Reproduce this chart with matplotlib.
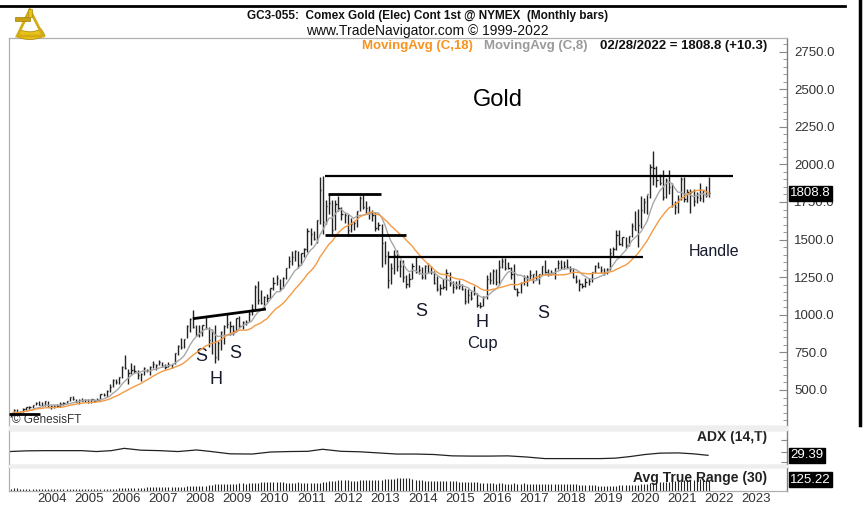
import numpy as np
import pandas as pd
import matplotlib
matplotlib.use('Agg')
import matplotlib.pyplot as plt
from matplotlib import font_manager
from matplotlib.lines import Line2D
from matplotlib.patches import Rectangle, Wedge, Polygon
from matplotlib.ticker import MultipleLocator, FixedLocator, FormatStrFormatter, NullLocator
import matplotlib.transforms as mtransforms

try:
    font_manager.findfont('Liberation Sans Narrow', fallback_to_default=False)
    NARROW = 'Liberation Sans Narrow'
except ValueError:
    NARROW = 'Liberation Sans'
plt.rcParams['font.family'] = [NARROW, 'DejaVu Sans']

# monthly bars, Apr 2003 .. Feb 2022
first_month = '2003-04-01'
close = [
    339, 364, 346, 354, 375, 385, 384, 398, 416,                              # 2003
    400, 396, 424, 388, 394, 393, 391, 408, 416, 429, 453, 438,               # 2004
    423, 436, 429, 436, 417, 437, 430, 434, 473, 470, 495, 518,               # 2005
    569, 556, 584, 654, 644, 616, 634, 626, 599, 606, 648, 636,               # 2006
    652, 672, 669, 684, 659, 651, 666, 673, 743, 795, 783, 838,               # 2007
    928, 975, 917, 865, 888, 930, 914, 834, 884, 718, 815, 884,               # 2008
    928, 942, 924, 891, 979, 927, 955, 955, 1008, 1040, 1182, 1097,           # 2009
    1081, 1118, 1115, 1180, 1213, 1244, 1181, 1248, 1309, 1357, 1386, 1421,   # 2010
    1333, 1411, 1439, 1556, 1536, 1502, 1628, 1829, 1620, 1725, 1746, 1566,   # 2011
    1738, 1711, 1669, 1664, 1561, 1604, 1610, 1692, 1776, 1719, 1711, 1675,   # 2012
    1663, 1579, 1596, 1476, 1393, 1234, 1312, 1395, 1327, 1323, 1250, 1202,   # 2013
    1240, 1322, 1284, 1295, 1250, 1322, 1282, 1287, 1210, 1171, 1175, 1184,   # 2014
    1278, 1213, 1183, 1182, 1190, 1172, 1095, 1132, 1115, 1142, 1064, 1060,   # 2015
    1116, 1238, 1234, 1290, 1215, 1320, 1357, 1311, 1313, 1272, 1173, 1151,   # 2016
    1210, 1252, 1249, 1266, 1268, 1241, 1269, 1322, 1283, 1270, 1275, 1309,   # 2017
    1343, 1318, 1327, 1316, 1305, 1253, 1224, 1206, 1192, 1215, 1222, 1282,   # 2018
    1325, 1316, 1295, 1285, 1305, 1413, 1437, 1529, 1472, 1514, 1465, 1523,   # 2019
    1589, 1567, 1597, 1694, 1751, 1800, 1986, 1978, 1895, 1879, 1780, 1895,   # 2020
    1850, 1729, 1714, 1769, 1906, 1771, 1817, 1818, 1757, 1784, 1775, 1829,   # 2021
    1795, 1808.8,                                                             # 2022
]
high = [
    341, 373, 372, 362, 378, 390, 394, 399, 417,
    427, 418, 429, 428, 397, 399, 410, 419, 418, 430, 456, 458,
    441, 439, 449, 438, 437, 443, 439, 450, 475, 480, 497, 540,
    572, 575, 588, 660, 732, 639, 677, 665, 632, 610, 650, 640,
    660, 691, 675, 697, 688, 673, 684, 675, 746, 798, 848, 840,
    935, 978, 1033, 933, 934, 935, 988, 918, 908, 933, 827, 889,
    935, 1008, 962, 930, 980, 992, 960, 966, 1023, 1070, 1196, 1227,
    1163, 1124, 1138, 1181, 1249, 1265, 1240, 1250, 1310, 1388, 1424, 1432,
    1424, 1414, 1447, 1576, 1577, 1560, 1632, 1917, 1923, 1760, 1804, 1764,
    1764, 1790, 1720, 1680, 1669, 1641, 1626, 1693, 1790, 1798, 1755, 1726,
    1697, 1683, 1617, 1606, 1488, 1425, 1347, 1434, 1434, 1363, 1362, 1267,
    1280, 1346, 1392, 1331, 1315, 1332, 1345, 1325, 1290, 1256, 1206, 1240,
    1307, 1284, 1224, 1224, 1232, 1205, 1175, 1170, 1157, 1191, 1145, 1088,
    1128, 1263, 1287, 1304, 1307, 1362, 1377, 1375, 1352, 1318, 1337, 1180,
    1220, 1264, 1262, 1297, 1272, 1297, 1273, 1325, 1362, 1307, 1300, 1310,
    1366, 1362, 1356, 1370, 1326, 1309, 1264, 1236, 1214, 1248, 1246, 1286,
    1330, 1349, 1325, 1309, 1310, 1443, 1453, 1566, 1566, 1519, 1517, 1525,
    1613, 1692, 1704, 1788, 1775, 1797, 2005, 2089, 1992, 1933, 1966, 1911,
    1962, 1877, 1755, 1797, 1916, 1919, 1837, 1834, 1834, 1814, 1877, 1831,
    1858, 1913,
]
low = [
    319, 338, 342, 341, 353, 370, 371, 377, 398,
    399, 392, 393, 385, 371, 383, 389, 390, 399, 412, 425, 432,
    418, 410, 425, 423, 414, 415, 419, 430, 436, 458, 456, 490,
    518, 538, 540, 583, 640, 543, 605, 613, 573, 560, 603, 617,
    603, 646, 636, 666, 652, 642, 651, 643, 671, 730, 774, 780,
    843, 884, 914, 860, 853, 856, 906, 786, 737, 681, 700, 767,
    805, 914, 866, 866, 884, 914, 908, 931, 953, 1000, 1040, 1075,
    1075, 1045, 1088, 1115, 1165, 1201, 1157, 1175, 1241, 1310, 1331, 1360,
    1309, 1330, 1383, 1419, 1462, 1495, 1478, 1602, 1535, 1605, 1672, 1523,
    1563, 1692, 1627, 1613, 1527, 1550, 1565, 1587, 1690, 1701, 1673, 1635,
    1626, 1555, 1563, 1321, 1339, 1180, 1208, 1274, 1293, 1251, 1221, 1180,
    1182, 1238, 1277, 1268, 1240, 1240, 1281, 1272, 1205, 1160, 1131, 1170,
    1167, 1190, 1142, 1170, 1169, 1162, 1072, 1078, 1098, 1132, 1052, 1046,
    1061, 1107, 1208, 1207, 1200, 1200, 1310, 1301, 1302, 1241, 1171, 1122,
    1147, 1200, 1194, 1240, 1214, 1236, 1205, 1265, 1277, 1260, 1265, 1236,
    1303, 1307, 1303, 1313, 1282, 1247, 1211, 1160, 1180, 1183, 1196, 1221,
    1276, 1311, 1280, 1267, 1269, 1301, 1385, 1428, 1465, 1459, 1445, 1459,
    1517, 1562, 1451, 1576, 1675, 1671, 1775, 1863, 1851, 1860, 1764, 1775,
    1803, 1717, 1673, 1679, 1765, 1750, 1751, 1677, 1721, 1746, 1758, 1753,
    1780, 1782,
]

# ADX (14,T)
adx_time = [2003.25, 2003.7, 2004.2, 2004.7, 2005.2, 2005.6, 2006.0, 2006.35, 2006.8,
            2007.3, 2007.8, 2008.3, 2008.7, 2009.2, 2009.8, 2010.3, 2010.8, 2011.3,
            2011.7, 2012.2, 2012.7, 2013.2, 2013.7, 2014.2, 2014.7, 2015.2, 2015.7,
            2016.2, 2016.7, 2017.2, 2017.7, 2018.2, 2018.7, 2019.2, 2019.6, 2020.0,
            2020.4, 2020.8, 2021.3, 2021.7, 2022.1]
adx_value = [46, 49, 50, 50, 50, 46, 50, 60, 52, 50, 46, 53, 46, 36, 35, 44, 46, 47,
             56, 47, 45, 40, 35, 35, 33, 27, 26, 26, 27, 22, 15, 15, 15, 15, 17, 24,
             33, 39, 40, 36, 29.39]

years = list(range(2004, 2024))
last_label = '02/28/2022 = 1808.8 (+10.3)'

# ---- derived series
df = pd.DataFrame({'close': close, 'high': high, 'low': low},
                  index=pd.date_range(first_month, periods=len(close), freq='MS'))
t = df.index.year + (df.index.month - 1) / 12 + 1 / 24
df['ma18'] = df['close'].rolling(18, min_periods=1).mean()
df['ma8'] = df['close'].rolling(8, min_periods=1).mean()
prev = df['close'].shift(1).fillna(df['close'])
tr = pd.concat([df['high'] - df['low'], (df['high'] - prev).abs(), (df['low'] - prev).abs()], axis=1).max(axis=1)
df['atr'] = tr.rolling(30, min_periods=1).mean()

W, H = 866, 508
fig = plt.figure(figsize=(W / 100, H / 100), dpi=100)
fig.patch.set_facecolor('white')


def fx(x):
    return x / W


def fy(y):
    return 1 - y / H


XMIN, XMAX = 2003.24, 2024.23
ax = fig.add_axes([fx(9), fy(426), fx(787) - fx(9), fy(38) - fy(426)])
ax2 = fig.add_axes([fx(9), fy(465), fx(787) - fx(9), fy(430) - fy(465)])
ax3 = fig.add_axes([fx(9), fy(491), fx(787) - fx(9), fy(467) - fy(491)])

# gray bands between panels
for y0, y1 in [(426, 430), (465, 467)]:
    fig.patches.append(Rectangle((fx(9), fy(y1)), fx(787) - fx(9), fy(y0) - fy(y1),
                                 transform=fig.transFigure, color='#eeeeee', zorder=0))

bar_col = '#222222'
ax.vlines(t, df['low'], df['high'], color=bar_col, lw=1.0, zorder=3)
ax.hlines(df['close'], t, t + 0.035, color=bar_col, lw=1.0, zorder=3)
ax.plot(t, df['ma8'], color='#a8a8a8', lw=1.0, zorder=4)
ax.plot(t, df['ma18'], color='#f39a45', lw=1.0, zorder=4)

# drawn trend lines
for (x0, x1), (y0, y1), lw in [((2003.24, 2004.07), (340, 340), 2.0),
                               ((2008.2, 2010.17), (974, 1038), 2.0),
                               ((2011.77, 2022.78), (1922, 1922), 1.6),
                               ((2011.85, 2013.28), (1805, 1805), 2.0),
                               ((2011.77, 2013.94), (1530, 1530), 2.0),
                               ((2013.47, 2020.35), (1382, 1382), 1.6)]:
    ax.plot([x0, x1], [y0, y1], color='black', lw=lw, zorder=5, solid_capstyle='butt')


def px_t(x):
    return 2004.4 + (x - 52) / 37.06


def px_p(y):
    return 500 + (390 - y) / 0.1504


ann_col = '#15192b'
ax.text(px_t(498), px_p(100), 'Gold', fontsize=17, ha='center', va='center', color='black', family='Liberation Sans')
ax.text(px_t(714), px_p(252), 'Handle', fontsize=11.5, ha='center', va='center', color=ann_col, family='Liberation Sans')
for x, y, s in [(421, 311, 'S'), (482, 323, 'H'), (543, 314, 'S'), (482, 344, 'Cup'),
                (201, 357, 'S'), (235, 354, 'S'), (216, 380, 'H')]:
    ax.text(px_t(x), px_p(y), s, fontsize=13 if len(s) == 1 else 12, ha='center', va='center',
            color=ann_col, family='Liberation Sans')
ax.text(px_t(12), px_p(420), '© GenesisFT', fontsize=8.5, ha='left', va='center', color='#333333')

ax.set_xlim(XMIN, XMAX)
ax.set_ylim(px_p(426), px_p(38))
ax.xaxis.set_major_locator(NullLocator())
ax.yaxis.tick_right()
ax.yaxis.set_major_locator(FixedLocator(np.arange(500, 2751, 250)))
ax.yaxis.set_minor_locator(MultipleLocator(50))
ax.yaxis.set_major_formatter(FormatStrFormatter('%.1f'))
ax.tick_params(axis='y', which='major', direction='in', length=6, color='#888888',
               labelsize=9.5, labelcolor='#333333', pad=5)
ax.tick_params(axis='y', which='minor', direction='in', length=3, color='#888888')

# price tag
blend = mtransforms.blended_transform_factory(ax.transAxes, ax.transData)
ax.text(1.004, 1808.8, '1808.8', transform=blend, ha='left', va='center', color='white',
        fontsize=9.5, zorder=10, clip_on=False,
        bbox=dict(boxstyle='square,pad=0.12', fc='black', ec='black'))

# ADX panel
ax2.plot(adx_time, adx_value, color='#222222', lw=0.9)
ax2.set_xlim(XMIN, XMAX)
ax2.set_ylim(-13.2, 140.8)
ax2.xaxis.set_major_locator(NullLocator())
ax2.yaxis.tick_right()
ax2.yaxis.set_major_locator(FixedLocator([0, 44, 97]))
ax2.tick_params(axis='y', direction='in', length=4, color='#888888', labelright=False)
ax2.text(0.975, 0.8, 'ADX (14,T)', transform=ax2.transAxes, ha='right', va='center',
         fontsize=10, fontweight='bold', color='#222222')
blend2 = mtransforms.blended_transform_factory(ax2.transAxes, ax2.transData)
ax2.text(1.004, 29.39, '29.39', transform=blend2, ha='left', va='center', color='white',
         fontsize=9.5, zorder=10, clip_on=False,
         bbox=dict(boxstyle='square,pad=0.12', fc='black', ec='black'))

# ATR panel
ax3.vlines(t, 0, df['atr'], color='#222222', lw=0.8)
ax3.set_xlim(XMIN, XMAX)
ax3.set_ylim(0, 273)
ax3.yaxis.set_major_locator(NullLocator())
ax3.set_xticks([y + 0.4 for y in years])
ax3.set_xticklabels([str(y) for y in years])
ax3.tick_params(axis='x', length=0, labelsize=9.5, labelcolor='#333333', pad=1.5)
ax3.text(0.975, 0.55, 'Avg True Range (30)', transform=ax3.transAxes, ha='right', va='center',
         fontsize=10, fontweight='bold', color='#222222')
blend3 = mtransforms.blended_transform_factory(ax3.transAxes, ax3.transData)
ax3.text(1.004, df['atr'].iloc[-1], '125.22', transform=blend3, ha='left', va='center', color='white',
         fontsize=9.5, zorder=10, clip_on=False,
         bbox=dict(boxstyle='square,pad=0.12', fc='black', ec='black'))

for a in (ax, ax2, ax3):
    a.set_facecolor('none')
    for side in ('left', 'top', 'bottom'):
        a.spines[side].set_color('#b0b0b0')
        a.spines[side].set_linewidth(0.9)
    a.spines['right'].set_color('#808080')
    a.spines['right'].set_linewidth(1.0)

# header
fig.text(fx(428), fy(16), 'GC3-055:  Comex Gold (Elec) Cont 1st @ NYMEX  (Monthly bars)',
         ha='center', va='center', fontsize=8.5, fontweight='bold', color='#111111')
fig.text(fx(427), fy(31), 'www.TradeNavigator.com © 1999-2022',
         ha='center', va='center', fontsize=10, color='#111111')
fig.text(fx(362), fy(46), 'MovingAvg (C,18)', ha='left', va='center', fontsize=9.5,
         fontweight='bold', color='#f7931e')
fig.text(fx(484), fy(46), 'MovingAvg (C,8)', ha='left', va='center', fontsize=9.5,
         fontweight='bold', color='#9a9a9a')
fig.text(fx(600), fy(46), last_label, ha='left', va='center', fontsize=9.5, fontweight='bold', color='#111111')

# window frame lines
fig.add_artist(Line2D([0, fx(845)], [fy(6), fy(6)], color='black', lw=2))
fig.add_artist(Line2D([fx(860), fx(860)], [fy(0), fy(425)], color='black', lw=2.5))

# logo (small gold sextant)
lg = fig.add_axes([fx(10), fy(43), fx(36), fy(8) - fy(43)])
lg.set_xlim(0, 1)
lg.set_ylim(0, 1)
lg.axis('off')
lg.add_patch(Wedge((0.55, 0.95), 0.85, 245, 300, width=0.22, fc='#e8c21c', ec='#b08d10', lw=0.6))
lg.add_patch(Polygon([[0.55, 0.95], [0.2, 0.2], [0.92, 0.2]], closed=True, fill=False, ec='#d4ab12', lw=2))
lg.add_patch(Rectangle((0.15, 0.62), 0.4, 0.12, fc='#c9a010', ec='#a07f0a', lw=0.5))
lg.add_patch(Rectangle((0.5, 0.75), 0.12, 0.22, fc='#e8c21c', ec='#b08d10', lw=0.5))

fig.savefig('out.png', dpi=100, facecolor='white')
